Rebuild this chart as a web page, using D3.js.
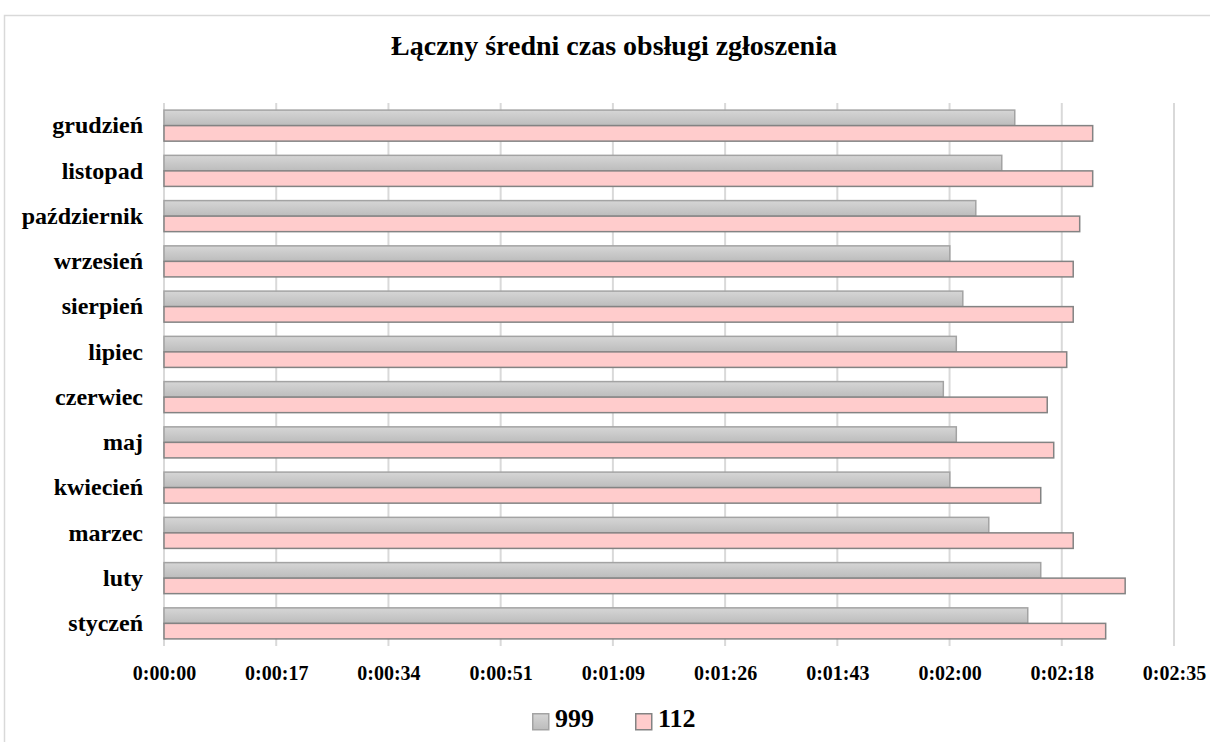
<!DOCTYPE html>
<html>
<head>
<meta charset="utf-8">
<script src="https://cdn.jsdelivr.net/npm/d3@7"></script>
<style>
  html, body { margin: 0; padding: 0; background: #fff; }
  svg { display: block; font-family: "Liberation Serif", "Times New Roman", serif; font-weight: bold; }
</style>
</head>
<body>
<svg id="chart" width="1210" height="742"></svg>
<script>
// Months, bottom to top as listed on the category axis
const months = ["styczeń", "luty", "marzec", "kwiecień", "maj", "czerwiec",
                "lipiec", "sierpień", "wrzesień", "październik", "listopad", "grudzień"];
// Average handling time in seconds
const series999 = [133, 135, 127, 121, 122, 120, 122, 123, 121, 125, 129, 131];
const series112 = [145, 148, 140, 135, 137, 136, 139, 140, 140, 141, 143, 143];
const seriesNames = ["999", "112"];
// Time axis: major unit of 0.0002 day (17.28 s)
const tickStep = 17.28;
const tickCount = 10;
const title = "Łączny średni czas obsługi zgłoszenia";

const svg = d3.select("#chart");
const W = 1210, H = 742;
const plot = { left: 164, right: 1174, top: 103, bottom: 646 };

// Outer chart border
svg.append("rect")
  .attr("x", 4.5).attr("y", 15.5)
  .attr("width", W + 10).attr("height", H + 10)
  .attr("fill", "#fff").attr("stroke", "#d9d9d9").attr("stroke-width", 1.5);

const defs = svg.append("defs");
const grad = defs.append("linearGradient").attr("id", "greyFill")
  .attr("x1", 0).attr("y1", 0).attr("x2", 0).attr("y2", 1);
grad.append("stop").attr("offset", "0%").attr("stop-color", "#d6d6d6");
grad.append("stop").attr("offset", "100%").attr("stop-color", "#bcbcbc");

const ticks = d3.range(tickCount).map(i => i * tickStep);
const x = d3.scaleLinear().domain([0, ticks[ticks.length - 1]]).range([plot.left, plot.right]);

const rows = months.map((m, i) => ({ month: m, values: [series999[i], series112[i]] }));
const y = d3.scaleBand().domain(months.slice().reverse())
  .range([plot.top, plot.bottom]).paddingInner(0.314).paddingOuter(0.157);
const ySub = d3.scaleBand().domain(seriesNames).range([0, y.bandwidth()]);

const fmt = s => {
  const t = Math.floor(s + 1e-6);
  const h = Math.floor(t / 3600), m = Math.floor((t % 3600) / 60), sec = t % 60;
  return `${h}:${String(m).padStart(2, "0")}:${String(sec).padStart(2, "0")}`;
};

// Vertical gridlines
svg.append("g").selectAll("line").data(ticks).join("line")
  .attr("x1", d => x(d)).attr("x2", d => x(d))
  .attr("y1", plot.top).attr("y2", plot.bottom)
  .attr("stroke", "#d9d9d9").attr("stroke-width", 2);

// Time axis labels
const xAxis = d3.axisBottom(x).tickValues(ticks).tickFormat(fmt).tickSize(0).tickPadding(0);
const gx = svg.append("g").attr("transform", `translate(0,${plot.bottom + 28})`).call(xAxis);
gx.select(".domain").remove();
gx.selectAll("text").attr("font-size", 20).attr("font-family", "Liberation Serif")
  .attr("font-weight", "bold").attr("fill", "#000").attr("dy", "0.3em").attr("y", 0);

// Category labels
const yAxis = d3.axisLeft(y).tickSize(0).tickPadding(0);
const gy = svg.append("g").attr("transform", `translate(${plot.left - 21},0)`).call(yAxis);
gy.select(".domain").remove();
gy.selectAll("text").attr("font-size", 24).attr("font-family", "Liberation Serif")
  .attr("font-weight", "bold").attr("fill", "#000").attr("dy", "0.32em");

const fills = { "999": "url(#greyFill)", "112": "#ffcccc" };
const strokes = { "999": "#a3a3a3", "112": "#838383" };

// Bars
const groups = svg.append("g").selectAll("g").data(rows).join("g")
  .attr("transform", d => `translate(0,${y(d.month)})`);
groups.selectAll("rect")
  .data(d => d.values.map((v, i) => ({ key: seriesNames[i], value: v })))
  .join("rect")
  .attr("x", x(0))
  .attr("y", d => ySub(d.key))
  .attr("width", d => x(d.value) - x(0))
  .attr("height", ySub.bandwidth())
  .attr("fill", d => fills[d.key])
  .attr("stroke", d => strokes[d.key])
  .attr("stroke-width", 1.5);

// Title
svg.append("text").attr("x", 614).attr("y", 55).attr("text-anchor", "middle")
  .attr("font-size", 28).attr("fill", "#000").text(title);

// Legend
const legendPos = [532, 635];
const lg = svg.append("g").selectAll("g").data(seriesNames).join("g")
  .attr("transform", (d, i) => `translate(${legendPos[i]},713)`);
lg.append("rect").attr("x", 0.75).attr("y", 0.75).attr("width", 16).attr("height", 16)
  .attr("fill", d => fills[d]).attr("stroke", d => strokes[d]).attr("stroke-width", 1.5);
lg.append("text").attr("x", 23).attr("y", 14).attr("font-size", 26).attr("fill", "#000")
  .text(d => d);
</script>
</body>
</html>
